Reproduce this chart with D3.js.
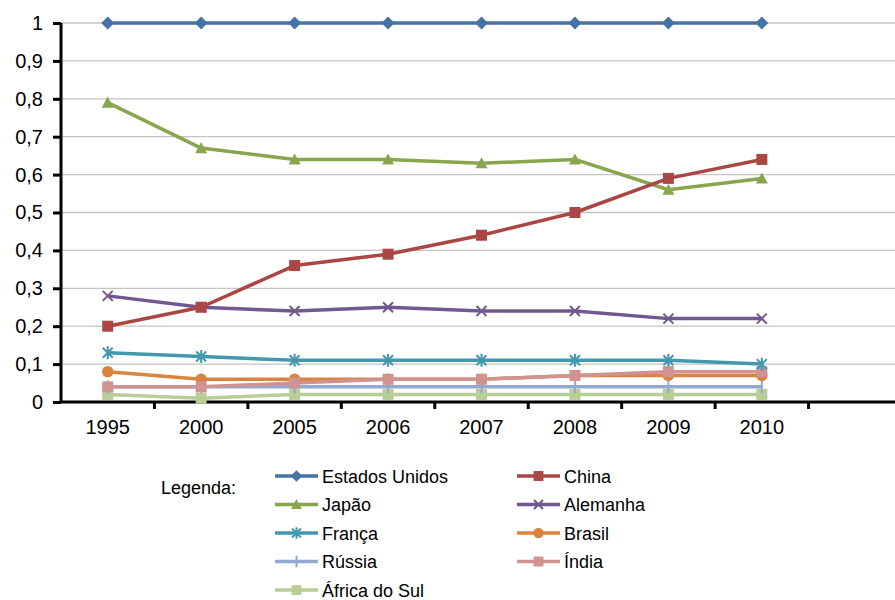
<!DOCTYPE html>
<html>
<head>
<meta charset="utf-8">
<script src="https://cdn.jsdelivr.net/npm/d3@7"></script>
<style>
  html, body { margin: 0; background: #fff; overflow: hidden; }
  svg { display: block; }
  text { font-family: "Liberation Sans", Arial, sans-serif; fill: #000; }
  .grid line { stroke: #c4c4c4; stroke-width: 1.3; }
  .axis path, .axis line { stroke: #000; stroke-width: 3; }
</style>
</head>
<body>
<div id="chart"></div>
<script>
// categories (last slot is empty, as in the original)
const years = ["1995", "2000", "2005", "2006", "2007", "2008", "2009", "2010", ""];
const yTicks = [0, 0.1, 0.2, 0.3, 0.4, 0.5, 0.6, 0.7, 0.8, 0.9, 1];

const estadosUnidos = [1, 1, 1, 1, 1, 1, 1, 1];
const china       = [0.20, 0.25, 0.36, 0.39, 0.44, 0.50, 0.59, 0.64];
const japao       = [0.79, 0.67, 0.64, 0.64, 0.63, 0.64, 0.56, 0.59];
const alemanha    = [0.28, 0.25, 0.24, 0.25, 0.24, 0.24, 0.22, 0.22];
const franca      = [0.13, 0.12, 0.11, 0.11, 0.11, 0.11, 0.11, 0.10];
const brasil      = [0.08, 0.06, 0.06, 0.06, 0.06, 0.07, 0.07, 0.07];
const russia      = [0.04, 0.04, 0.04, 0.04, 0.04, 0.04, 0.04, 0.04];
const india       = [0.04, 0.04, 0.05, 0.06, 0.06, 0.07, 0.08, 0.08];
const africaDoSul = [0.02, 0.01, 0.02, 0.02, 0.02, 0.02, 0.02, 0.02];

const series = [
  {name: "Estados Unidos", values: estadosUnidos, color: "#4572A7", marker: "diamond"},
  {name: "China",          values: china,         color: "#AA4643", marker: "square"},
  {name: "Japão",          values: japao,         color: "#89A54E", marker: "triangle"},
  {name: "Alemanha",       values: alemanha,      color: "#71588F", marker: "x"},
  {name: "França",         values: franca,        color: "#4198AF", marker: "star"},
  {name: "Brasil",         values: brasil,        color: "#DB843D", marker: "circle"},
  {name: "Rússia",         values: russia,        color: "#93A9CF", marker: "plus"},
  {name: "Índia",          values: india,         color: "#D19392", marker: "square"},
  {name: "África do Sul",  values: africaDoSul,   color: "#B9CD96", marker: "square"}
];

/* dimensions */
const W = 895, H = 600;
const margin = {top: 23, right: 0, bottom: 198, left: 61};
const plotW = 841;                 // full band range (last band runs off the page)
const visW = W - margin.left;      // visible part of the axis
const height = H - margin.top - margin.bottom;

const svg = d3.select("#chart").append("svg")
  .attr("width", W).attr("height", H);
const g = svg.append("g")
  .attr("transform", `translate(${margin.left},${margin.top})`);

/* scales */
const x = d3.scaleBand().domain(d3.range(years.length)).range([0, plotW]);
const y = d3.scaleLinear().domain([0, 1]).range([height, 0]);
const cx = i => x(i) + x.bandwidth() / 2;

/* gridlines */
g.append("g").attr("class", "grid")
  .selectAll("line").data(yTicks.slice(1)).join("line")
  .attr("x1", 0).attr("x2", visW)
  .attr("y1", d => y(d)).attr("y2", d => y(d));

/* y axis */
const yAxis = g.append("g").attr("class", "axis")
  .call(d3.axisLeft(y).tickValues(yTicks).tickSize(8).tickPadding(10)
    .tickFormat(d => d === 0 ? "0" : d === 1 ? "1" : d3.format(".1f")(d).replace(".", ",")));
yAxis.select(".domain").attr("d", `M0,${y(1)}V${height}`);
yAxis.selectAll("text").style("font-size", "20px");

/* x axis: ticks between categories */
const xAxisG = g.append("g").attr("class", "axis")
  .attr("transform", `translate(0,${height})`);
xAxisG.append("line").attr("x1", 0).attr("x2", visW).attr("y1", 0).attr("y2", 0);
xAxisG.selectAll(".tk").data(d3.range(1, years.length)).join("line")
  .attr("class", "tk")
  .attr("x1", d => x(d)).attr("x2", d => x(d))
  .attr("y1", 0).attr("y2", 7);
xAxisG.selectAll("text").data(years).join("text")
  .attr("x", (d, i) => cx(i)).attr("y", 32)
  .attr("text-anchor", "middle")
  .style("font-size", "20px")
  .text(d => d);

/* markers */
function drawMarker(sel, type, color, s) {
  if (type === "x") {
    sel.append("path").attr("d", `M${-s},${-s}L${s},${s}M${-s},${s}L${s},${-s}`)
      .attr("stroke", color).attr("stroke-width", 2).attr("fill", "none");
  } else if (type === "star") {
    sel.append("path").attr("d", `M${-s},${-s}L${s},${s}M${-s},${s}L${s},${-s}M0,${-s * 1.3}V${s * 1.3}`)
      .attr("stroke", color).attr("stroke-width", 2).attr("fill", "none");
  } else if (type === "plus") {
    sel.append("path").attr("d", `M0,${-s * 1.3}V${s * 1.3}`)
      .attr("stroke", color).attr("stroke-width", 2).attr("fill", "none");
  } else if (type === "diamond") {
    const r = s * 1.3;
    sel.append("path").attr("d", `M0,${-r}L${r},0L0,${r}L${-r},0Z`).attr("fill", color);
  } else if (type === "square") {
    const r = s * 1.1;
    sel.append("rect").attr("x", -r).attr("y", -r).attr("width", 2 * r).attr("height", 2 * r)
      .attr("fill", color);
  } else if (type === "triangle") {
    const r = s * 1.2;
    sel.append("path").attr("d", `M0,${-r}L${r},${r * 0.85}L${-r},${r * 0.85}Z`).attr("fill", color);
  } else {
    sel.append("circle").attr("r", s * 1.15).attr("fill", color);
  }
}

const line = d3.line().x((d, i) => cx(i)).y(d => y(d));

/* draw order: bottom series first so upper ones cover */
const drawOrder = ["África do Sul", "Rússia", "Brasil", "Índia", "França", "Alemanha", "Japão", "China", "Estados Unidos"];
drawOrder.map(n => series.find(s => s.name === n)).forEach(s => {
  g.append("path").datum(s.values)
    .attr("fill", "none").attr("stroke", s.color).attr("stroke-width", 3.5)
    .attr("stroke-linejoin", "round").attr("d", line);
  s.values.forEach((v, i) => {
    const m = g.append("g").attr("transform", `translate(${cx(i)},${y(v)})`);
    drawMarker(m, s.marker, s.color, 5);
  });
});

/* legend */
const legend = svg.append("g");
legend.append("text").attr("x", 161).attr("y", 494).style("font-size", "18px").text("Legenda:");
const cols = [275, 517];
series.forEach((s, i) => {
  const lx = cols[i % 2], ly = 476 + Math.floor(i / 2) * 28.5;
  const item = legend.append("g").attr("transform", `translate(${lx},${ly})`);
  item.append("line").attr("x1", 0).attr("x2", 43).attr("y1", 0).attr("y2", 0)
    .attr("stroke", s.color).attr("stroke-width", 3.5);
  const m = item.append("g").attr("transform", "translate(21.5,0)");
  drawMarker(m, s.marker, s.color, 4.5);
  item.append("text").attr("x", 47).attr("y", 6.5).style("font-size", "18px")
    .text(s.name);
});
</script>
</body>
</html>
